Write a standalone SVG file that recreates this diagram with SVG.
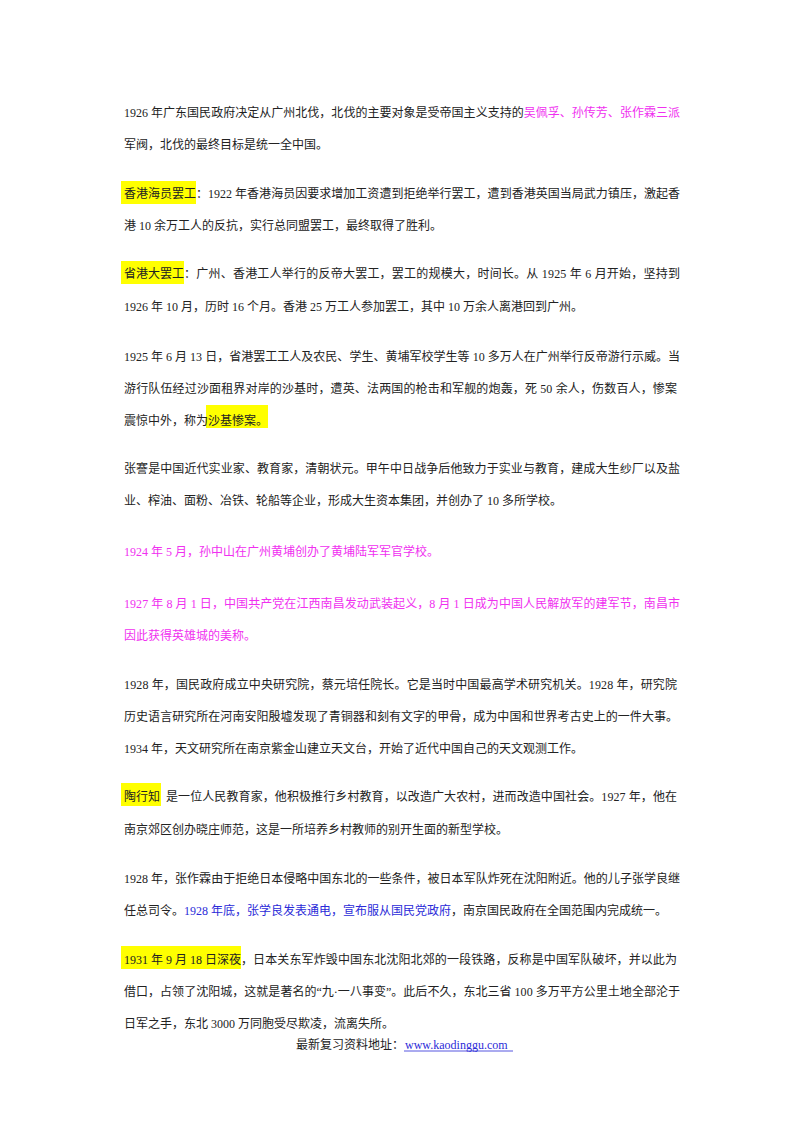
<svg xmlns="http://www.w3.org/2000/svg" width="800" height="1132" viewBox="0 0 800 1132">
<style>
text{font-family:"Liberation Serif","Noto Sans CJK SC",serif;font-size:12px;fill:#222}
.m{fill:#f030f0}
.b{fill:#2b2bd8}
.hl{fill:#ffff00}
</style>
<rect width="800" height="1132" fill="#fff"/>
<g id="highlights">
<rect class="hl" x="121" y="181" width="75" height="23"/>
<rect class="hl" x="121" y="261" width="63" height="23"/>
<rect class="hl" x="206" y="405" width="62" height="23"/>
<rect class="hl" x="121" y="783" width="40" height="23"/>
<rect class="hl" x="121" y="946" width="120" height="23"/>
</g>
<g id="p1">
<text x="124" y="117" textLength="556" lengthAdjust="spacing">1926 年广东国民政府决定从广州北伐，北伐的主要对象是受帝国主义支持的<tspan class="m">吴佩孚、孙传芳、张作霖三派</tspan></text>
<text x="124" y="149">军阀，北伐的最终目标是统一全中国。</text>
</g>
<g id="p2">
<text x="124" y="198">香港海员罢工</text>
<text x="196" y="198" textLength="484" lengthAdjust="spacing">：1922 年香港海员因要求增加工资遭到拒绝举行罢工，遭到香港英国当局武力镇压，激起香</text>
<text x="124" y="230">港 10 余万工人的反抗，实行总同盟罢工，最终取得了胜利。</text>
</g>
<g id="p3">
<text x="124" y="278">省港大罢工</text>
<text x="184" y="278" textLength="496" lengthAdjust="spacing">：广州、香港工人举行的反帝大罢工，罢工的规模大，时间长。从 1925 年 6 月开始，坚持到</text>
<text x="124" y="311">1926 年 10 月，历时 16 个月。香港 25 万工人参加罢工，其中 10 万余人离港回到广州。</text>
</g>
<g id="p4">
<text x="124" y="361" textLength="556" lengthAdjust="spacing">1925 年 6 月 13 日，省港罢工工人及农民、学生、黄埔军校学生等 10 多万人在广州举行反帝游行示威。当</text>
<text x="124" y="393" textLength="553" lengthAdjust="spacing">游行队伍经过沙面租界对岸的沙基时，遭英、法两国的枪击和军舰的炮轰，死 50 余人，伤数百人，惨案</text>
<text x="124" y="425">震惊中外，称为</text>
<text x="208" y="425">沙基惨案。</text>
</g>
<g id="p5">
<text x="124" y="473" textLength="556" lengthAdjust="spacing">张謇是中国近代实业家、教育家，清朝状元。甲午中日战争后他致力于实业与教育，建成大生纱厂以及盐</text>
<text x="124" y="505">业、榨油、面粉、冶铁、轮船等企业，形成大生资本集团，并创办了 10 多所学校。</text>
</g>
<g id="p6"><text class="m" x="124" y="556">1924 年 5 月，孙中山在广州黄埔创办了黄埔陆军军官学校。</text></g>
<g id="p7">
<text class="m" x="124" y="608" textLength="556" lengthAdjust="spacing">1927 年 8 月 1 日，中国共产党在江西南昌发动武装起义，8 月 1 日成为中国人民解放军的建军节，南昌市</text>
<text class="m" x="124" y="640">因此获得英雄城的美称。</text>
</g>
<g id="p8">
<text x="124" y="689" textLength="553" lengthAdjust="spacing">1928 年，国民政府成立中央研究院，蔡元培任院长。它是当时中国最高学术研究机关。1928 年，研究院</text>
<text x="124" y="721" textLength="554" lengthAdjust="spacing">历史语言研究所在河南安阳殷墟发现了青铜器和刻有文字的甲骨，成为中国和世界考古史上的一件大事。</text>
<text x="124" y="753">1934 年，天文研究所在南京紫金山建立天文台，开始了近代中国自己的天文观测工作。</text>
</g>
<g id="p9">
<text x="124" y="801">陶行知</text>
<text x="166" y="801" textLength="511" lengthAdjust="spacing">是一位人民教育家，他积极推行乡村教育，以改造广大农村，进而改造中国社会。1927 年，他在</text>
<text x="124" y="834">南京郊区创办晓庄师范，这是一所培养乡村教师的别开生面的新型学校。</text>
</g>
<g id="p10">
<text x="124" y="883" textLength="556" lengthAdjust="spacing">1928 年，张作霖由于拒绝日本侵略中国东北的一些条件，被日本军队炸死在沈阳附近。他的儿子张学良继</text>
<text x="124" y="915">任总司令。<tspan class="b">1928 年底，张学良发表通电，宣布服从国民党政府</tspan>，南京国民政府在全国范围内完成统一。</text>
</g>
<g id="p11">
<text x="124" y="964">1931 年 9 月 18 日深夜</text>
<text x="241" y="964" textLength="436" lengthAdjust="spacing">，日本关东军炸毁中国东北沈阳北郊的一段铁路，反称是中国军队破坏，并以此为</text>
<text x="124" y="996" textLength="556" lengthAdjust="spacing">借口，占领了沈阳城，这就是著名的“九·一八事变”。此后不久，东北三省 100 多万平方公里土地全部沦于</text>
<text x="124" y="1028">日军之手，东北 3000 万同胞受尽欺凌，流离失所。</text>
</g>
<g id="footer">
<text x="296" y="1049">最新复习资料地址：</text>
<text class="b" x="405" y="1049">www.kaodinggu.com</text>
<line x1="404" y1="1051" x2="513" y2="1051" stroke="#2b2bd8" stroke-width="0.8"/>
</g>
</svg>
